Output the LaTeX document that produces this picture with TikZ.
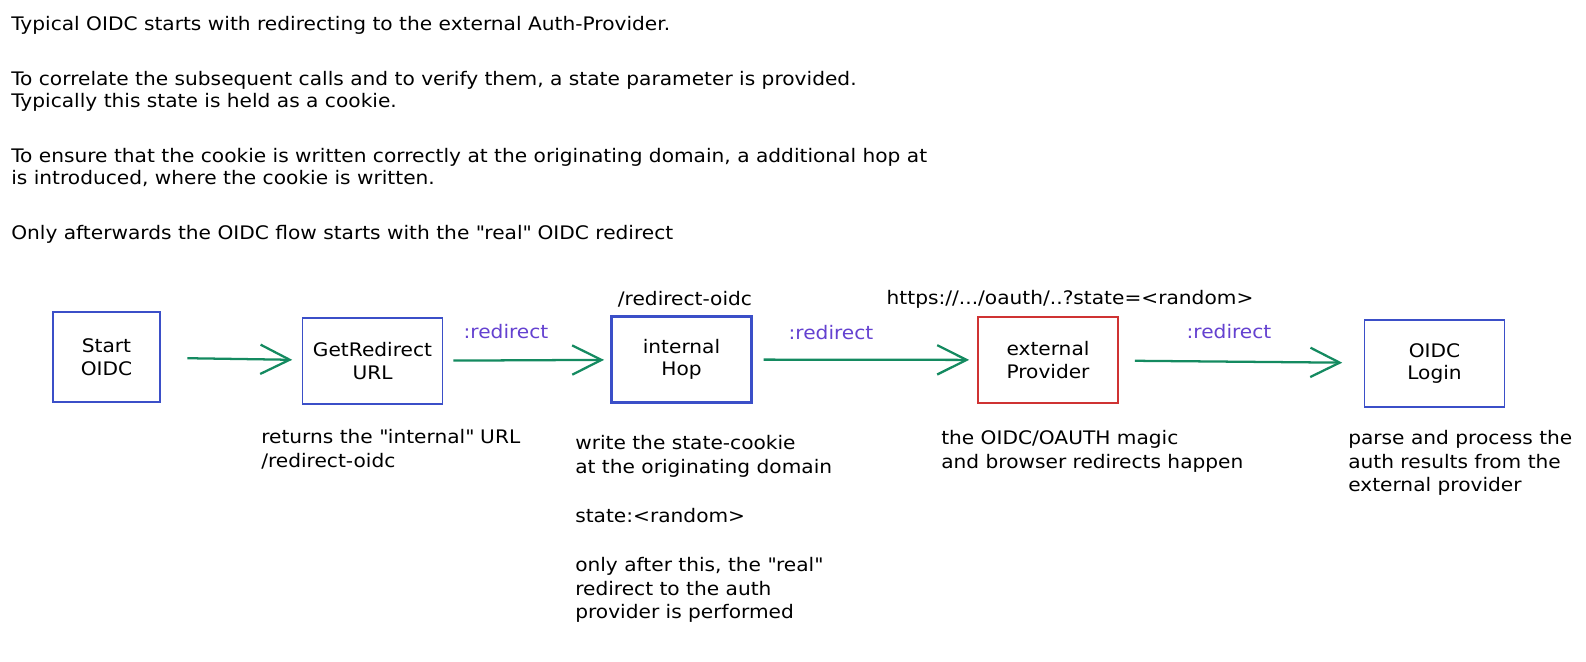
\documentclass[tikz,border=0pt]{standalone}
\usepackage{fontspec}
\setmainfont[FakeStretch=1.08]{DejaVu Sans}
\usetikzlibrary{positioning,arrows.meta}
\definecolor{flowgreen}{HTML}{148A60}
\definecolor{boxblue}{HTML}{3B4FC8}
\definecolor{boxred}{HTML}{CF3333}
\definecolor{labelpurple}{HTML}{6441D0}
\newcommand{\qq}{\textquotedbl}
\tikzset{
  flowarrow/.style={-{Straight Barb[length=22pt, width=22pt]}, line width=1.7pt, draw=flowgreen},
  stepbox/.style={draw=boxblue, line width=1.4pt, minimum width=105pt, minimum height=65pt, inner sep=0pt, align=center},
  stepbox2/.style={stepbox, line width=2.2pt},
  extbox/.style={stepbox, draw=boxred},
  relabel/.style={text=labelpurple, inner sep=0pt},
  urllabel/.style={inner sep=0pt},
  note/.style={anchor=north west, align=left, inner sep=0pt, font=\fontsize{14}{17.8}\selectfont}
}

\begin{document}
\begin{tikzpicture}[x=0.75pt, y=-0.75pt, every node/.style={font=\fontsize{14}{17}\selectfont}]
  \useasboundingbox (0,0) rectangle (1586,661);
  % intro text
  \node[note, font=\fontsize{14}{16.7}\selectfont] (intro) at (11,16) {Typical OIDC starts with redirecting to the external Auth-Provider.\\[24.5pt]
    To correlate the subsequent calls and to verify them, a state parameter is provided.\\
    Typically this state is held as a cookie.\\[24.5pt]
    To ensure that the cookie is written correctly at the originating domain, a additional hop at\\
    is introduced, where the cookie is written.\\[24.5pt]
    Only afterwards the OIDC flow starts with the \qq real\qq{} OIDC redirect};
  % flow
  \node[stepbox, minimum width=80pt, minimum height=67pt] (start) at (106.5,357) {Start\\ OIDC};
  \node[stepbox] (getredirect) at (372.5,361) {GetRedirect\\ URL};
  \node[stepbox2] (hop) at (681.5,359.5) {internal\\ Hop};
  \node[extbox] (ext) at (1048,360) {external\\ Provider};
  \node[stepbox] (login) at (1434.5,363.5) {OIDC\\ Login};
  \draw[flowarrow, shorten <=20pt, shorten >=7pt] (start) -- (getredirect);
  \draw[flowarrow, shorten <=7.5pt, shorten >=4.5pt] (getredirect) -- (hop);
  \draw[flowarrow, shorten <=8pt, shorten >=6pt] (hop) -- (ext);
  \draw[flowarrow, shorten <=12pt, shorten >=16pt] (ext) -- (login);
  % labels
  \node[relabel] (redir1) at (506,332) {:redirect};
  \node[relabel] (redir2) at (831,333) {:redirect};
  \node[relabel] (redir3) at (1229,332) {:redirect};
  \node[urllabel] (hopurl) at (685,299) {/redirect-oidc};
  \node[urllabel] (exturl) at (1070,299) {https://.../oauth/..?state=<random>};
  % notes
  \node[note] (getnote) at (261,429) {returns the \qq internal\qq{} URL\\ /redirect-oidc};
  \node[note] (hopnote) at (575,435) {write the state-cookie\\ at the originating domain\\[19pt]
    state:<random>\\[19pt]
    only after this, the \qq real\qq\\ redirect to the auth\\ provider is performed};
  \node[note] (extnote) at (941,430) {the OIDC/OAUTH magic\\ and browser redirects happen};
  \node[note] (loginnote) at (1348,430) {parse and process the\\ auth results from the\\ external provider};
\end{tikzpicture}
\end{document}
